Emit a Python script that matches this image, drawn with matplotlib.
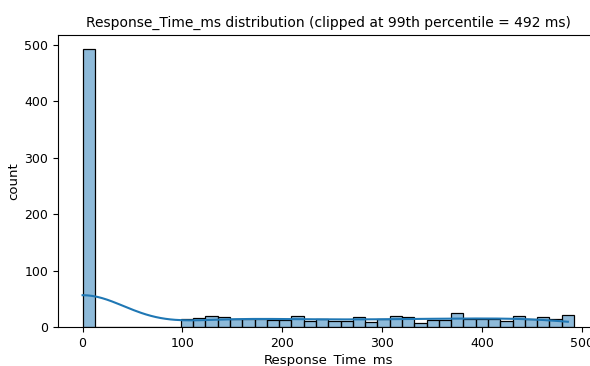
import numpy as np
import matplotlib
matplotlib.use("Agg")
import matplotlib.pyplot as plt
import seaborn as sns

# histogram: 40 bins over 0..492 ms
clip_value = 492
n_bins = 40
bin_counts = [493, 0, 0, 0, 0, 0, 0, 0,
              14, 16, 20, 18, 14, 14, 14, 13, 13, 20, 11, 14, 11, 11, 17, 8,
              14, 20, 17, 7, 13, 12, 24, 15, 14, 15, 11, 20, 14, 18, 14, 21]

edges = np.linspace(0, clip_value, n_bins + 1)
centers = (edges[:-1] + edges[1:]) / 2
centers[0] = 0.0  # the spike sits at 0 ms
response_ms = np.repeat(centers, bin_counts)

fig = plt.figure(figsize=(5.9, 3.66), dpi=100)
ax = fig.add_axes([58 / 590, 39 / 366, 540.6 / 590, 292 / 366])

sns.histplot(x=response_ms, bins=n_bins, binrange=(0, clip_value), kde=True, ax=ax)

ax.set_title("Response_Time_ms distribution (clipped at 99th percentile = %d ms)" % clip_value,
             fontsize=10)
ax.set_xlabel("Response_Time_ms", fontsize=9.5, labelpad=3)
ax.set_ylabel("count", fontsize=9.5, labelpad=3)
ax.tick_params(labelsize=9)

fig.savefig("out.png", dpi=100)
